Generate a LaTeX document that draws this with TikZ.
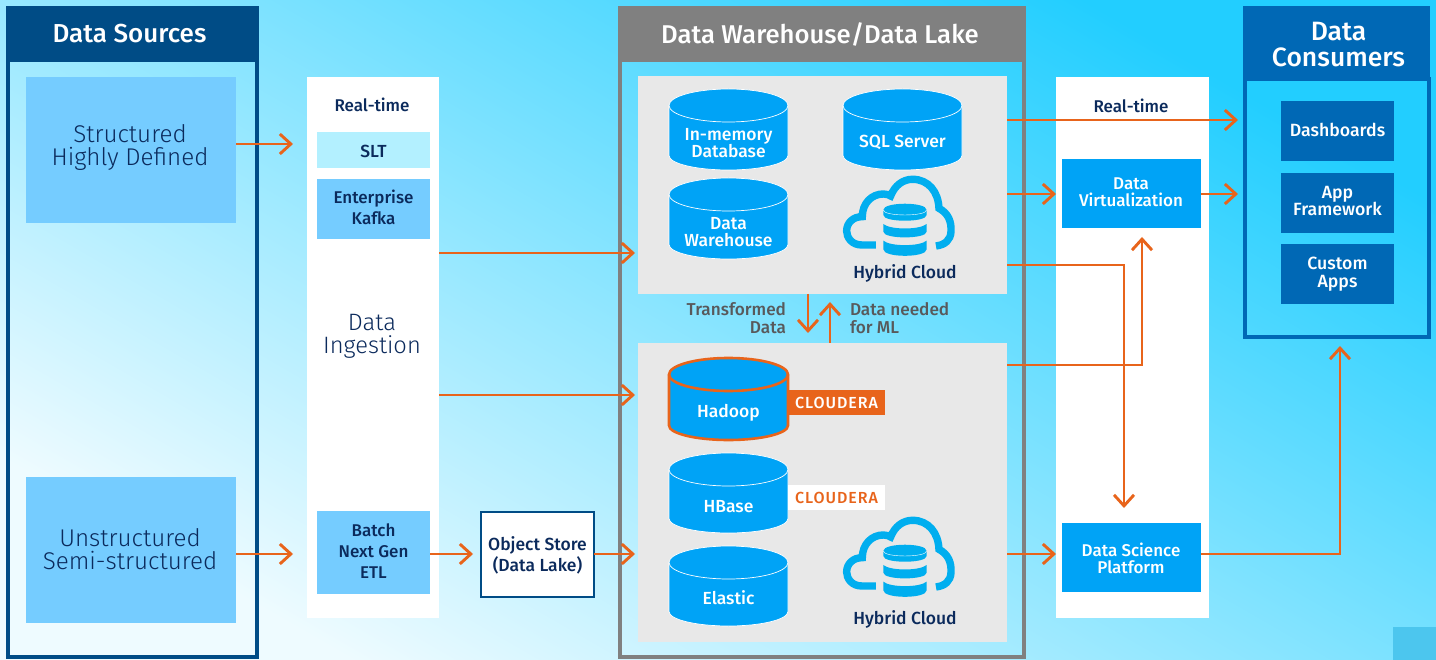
\documentclass[tikz,border=0pt]{standalone}
\usepackage{fontspec}
\usetikzlibrary{arrows.meta,calc}
\setmainfont{Open Sans}
\newfontfamily\fmed{Fira Sans Medium}
\newfontfamily\flight{Fira Sans Light}
\definecolor{ora}{HTML}{E8641B}
\definecolor{navy}{HTML}{004C86}
\definecolor{blu}{HTML}{0068B5}
\definecolor{cyanb}{HTML}{00A3F6}
\definecolor{skyb}{HTML}{75CCFF}
\definecolor{palb}{HTML}{B3F0FF}
\definecolor{panelg}{HTML}{E8E8E8}
\definecolor{graym}{HTML}{808080}
\definecolor{ink}{HTML}{0B2A5C}
\definecolor{txtg}{HTML}{58595B}
\definecolor{icon}{HTML}{00AEEF}
\definecolor{bgdark}{HTML}{22CEFF}
\definecolor{bglight}{HTML}{EEFBFF}
\tikzset{
  x=1pt,y=-1pt,
  box/.style={rectangle,inner sep=0pt,outer sep=0pt,align=center},
  fs/.style={font={\fmed\fontsize{#1}{#1}\selectfont}},
  conn/.style={draw=ora,line width=2.9pt,-{Straight Barb[length=11pt,width=20pt,line width=2.9pt]}},
  cyl/.style={fill=cyanb,draw=white,line width=.7pt},
}
% left x, top y, bottom y, name, text, extra style, text centre y
\newcommand\dbcyl[7]{%
  \path[cyl,#6] (#1,#2+16.5) arc[start angle=180,end angle=0,x radius=59.5pt,y radius=16.5pt]
    -- (#1+119,#3-14.5) arc[start angle=0,end angle=-180,x radius=59.5pt,y radius=14.5pt] -- cycle;
  \path[cyl,fill=none,#6] (#1,#2+16.5) arc[start angle=180,end angle=360,x radius=59.5pt,y radius=16.5pt];
  \node[box,text=white,fs=17.5] (#4) at (#1+59.5,#7) {#5};
}
\newcommand\cloudicon[2]{%
  \begin{scope}[shift={(#1,#2)},x=0.3333pt,y=-0.3333pt]
    \draw[icon,line width=7.4pt] (768,735) -- (725,735) .. controls (695,735) and (680,712) .. (680,693)
      .. controls (680,668) and (700,650) .. (727,650)
      .. controls (727,610) and (755,582) .. (790,582)
      .. controls (800,582) and (808,585) .. (812,588)
      .. controls (825,555) and (850,538) .. (878,538)
      .. controls (925,538) and (955,575) .. (957,625)
      .. controls (985,640) and (995,665) .. (993,695)
      .. controls (992,720) and (975,735) .. (948,738);
    \fill[icon] (790,630) .. controls (790,605) and (920,605) .. (920,630) -- (920,645)
       .. controls (920,668) and (790,668) .. (790,645) -- cycle;
    \draw[white,line width=.4pt] (790,630) .. controls (790,650) and (920,650) .. (920,630);
    \fill[icon] (790,672) .. controls (810,690) and (900,690) .. (920,672) -- (920,695)
       .. controls (920,718) and (790,718) .. (790,695) -- cycle;
    \fill[icon] (790,722) .. controls (810,740) and (900,740) .. (920,722) -- (920,748)
       .. controls (920,774) and (790,774) .. (790,748) -- cycle;
  \end{scope}%
}
\begin{document}
\begin{tikzpicture}
\useasboundingbox (0,0) rectangle (1436,660);
% background
\shade[bottom color=bglight,top color=bgdark,shading angle=-30]
   (0,0) rectangle (1436,660);
\fill[fill={rgb,255:red,76;green,198;blue,238}] (1393,627) rectangle (1436,660);

% Data sources
\draw[navy,line width=4pt] (8,60) rectangle (257,657);
\node[box,fill=navy,minimum width=253pt,minimum height=56pt] (srchead) at (132.5,34) {};
\node[box,text=white,fs=26] (srcheadt) at (129.5,34) {Data Sources};
\node[box,fill=skyb,minimum width=210pt,minimum height=146pt] (struct) at (131,150) {};
\node[box,text=ink,font={\flight\fontsize{24.2}{23}\selectfont}] (structt) at (130,147) {Structured\\Highly Defined};
\node[box,fill=skyb,minimum width=210pt,minimum height=146pt] (unstruct) at (131,550) {};
\node[box,text=ink,font={\flight\fontsize{24.2}{23}\selectfont}] (unstructt) at (130,549) {Unstructured\\Semi-structured};

% Ingestion
\node[box,fill=white,minimum width=132pt,minimum height=541pt] (ingest) at (373,347.5) {};
\node[box,text=ink,fs=17] (rt1) at (372,105) {Real-time};
\node[box,fill=palb,minimum width=113pt,minimum height=36pt] (slt) at (373.5,150) {};
\node[box,text=ink,fs=17.5] (sltt) at (373.5,151) {SLT};
\node[box,fill=skyb,minimum width=113pt,minimum height=60pt] (kafka) at (373.5,209) {};
\node[box,text=ink,font={\fmed\fontsize{17}{21}\selectfont}] (kafkat) at (373.5,207.5) {Enterprise\\Kafka};
\node[box,text=ink,font={\flight\fontsize{23.7}{23}\selectfont}] (dataing) at (372,336.5) {Data\\Ingestion};
\node[box,fill=skyb,minimum width=113pt,minimum height=83pt] (batch) at (373.5,552.5) {};
\node[box,text=ink,font={\fmed\fontsize{17}{21}\selectfont}] (batcht) at (373.5,551.5) {Batch\\Next Gen\\ETL};
\node[box,fill=white,draw=navy,line width=1.5pt,minimum width=113pt,minimum height=85pt] (objstore) at (537.5,554.5) {};
\node[box,text=ink,font={\fmed\fontsize{17.5}{21}\selectfont}] (objstoret) at (537.5,555.5) {Object Store\\(Data Lake)};

% Warehouse
\draw[graym,line width=4pt] (620,60) rectangle (1024,657);
\node[box,fill=graym,minimum width=408pt,minimum height=56pt] (dwhead) at (822,34) {};
\node[box,text=white,fs=25.7] (dwheadt) at (820,34) {Data Warehouse/Data Lake};
\node[box,fill=panelg,minimum width=369pt,minimum height=218pt] (panelA) at (822.5,185) {};
\node[box,fill=panelg,minimum width=369pt,minimum height=299pt] (panelB) at (822.5,492.5) {};

\dbcyl{669}{89}{170}{inmem}{In-memory\\Database}{}{143}
\dbcyl{843}{89}{170}{sqlsrv}{SQL Server}{}{142}
\dbcyl{669}{178}{259}{dwcyl}{Data\\Warehouse}{}{232}
\cloudicon{620}{0}
\node[box,text=ink,fs=17.5] (hc1) at (905,273) {Hybrid Cloud};

\dbcyl{669}{358}{440}{hadoop}{Hadoop}{draw=ora,line width=2.6pt}{413}
\dbcyl{669}{453}{533}{hbase}{HBase}{}{507}
\dbcyl{669}{546}{626}{elastic}{Elastic}{}{598}
\node[box,fill=ora,text=white,minimum width=97pt,minimum height=25pt,fs=16] (cl1) at (836.5,402.5) {\addfontfeature{LetterSpace=6}CLOUDERA};
\node[box,fill=white,text=ora,minimum width=97pt,minimum height=25pt,fs=16] (cl2) at (836.5,497.5) {\addfontfeature{LetterSpace=6}CLOUDERA};
\cloudicon{620}{341}
\node[box,text=ink,fs=17.5] (hc2) at (905,619) {Hybrid Cloud};

\node[box,text=txtg,align=right,anchor=east,font={\fmed\fontsize{17.2}{18}\selectfont}] (transf) at (786,318) {Transformed\\Data};
\node[box,text=txtg,align=left,anchor=west,font={\fmed\fontsize{17.2}{18}\selectfont}] (needed) at (850,318) {Data needed\\for ML};

% Right ingestion
\node[box,fill=white,minimum width=153pt,minimum height=541pt] (serve) at (1132.5,347.5) {};
\node[box,text=ink,fs=17] (rt2) at (1131,106) {Real-time};
\node[box,fill=cyanb,minimum width=139pt,minimum height=69pt] (dv) at (1131.5,193.5) {};
\node[box,text=white,fs=17] (dvt) at (1131,192.5) {Data\\Virtualization};
\node[box,fill=cyanb,minimum width=139pt,minimum height=69pt] (dsp) at (1131.5,557.5) {};
\node[box,text=white,fs=17] (dspt) at (1131,558) {Data Science\\Platform};

% Consumers
\draw[blu,line width=4pt] (1245,79) rectangle (1429,337);
\node[box,fill=blu,minimum width=187pt,minimum height=75pt] (conshead) at (1336.5,43.5) {};
\node[box,text=white,font={\fmed\fontsize{26.5}{26}\selectfont}] (consheadt) at (1338.5,44.5) {Data\\Consumers};
\node[box,fill=blu,minimum width=113pt,minimum height=60pt] (dash) at (1337.5,131) {};
\node[box,text=white,fs=17.7] (dasht) at (1337.5,130) {Dashboards};
\node[box,fill=blu,minimum width=113pt,minimum height=60pt] (appf) at (1337.5,203) {};
\node[box,text=white,fs=17.7] (appft) at (1337.5,201) {App\\Framework};
\node[box,fill=blu,minimum width=113pt,minimum height=60pt] (capps) at (1337.5,274) {};
\node[box,text=white,fs=17.7] (cappst) at (1337.5,274) {Custom\\Apps};
\coordinate (consL1) at (1238,120);
\coordinate (consL2) at (1238,194);
\coordinate (consB) at (1340,346);
\coordinate (ingL) at (293,144);
\coordinate (ingL2) at (293,554);
\coordinate (objL) at (473,554);

% connectors
\draw[conn] (struct.east |- ingL) -- (ingL);
\draw[conn] (unstruct.east |- ingL2) -- (ingL2);
\draw[conn] (batch.east |- objL) -- (objL);
\draw[conn] (objstore.east |- objL) -- ($(panelB.west |- objL)+(-3,0)$);
\draw[conn] (ingest.east |- 0,253) -- ($(panelA.west |- 0,253)+(-3,0)$);
\draw[conn] (ingest.east |- 0,395) -- ($(panelB.west |- 0,395)+(-3,0)$);
\draw[conn] (panelA.east |- consL1) -- (consL1);
\draw[conn] (panelA.east |- consL2) -- ($(dv.west |- consL2)+(-6,0)$);
\draw[conn] (dv.east |- consL2) -- (consL2);
\draw[conn] (panelA.east |- 0,265) -| ($(dsp.north -| 1124,0)+(0,-15)$);
\draw[conn] (panelB.east |- 0,365) -| ($(dv.south -| 1142,0)+(0,9)$);
\draw[conn] (panelB.east |- objL) -- ($(dsp.west |- objL)+(-6,0)$);
\draw[conn] (dsp.east |- objL) -| (consB);
\draw[conn] (panelA.south -| 808,0) -- ($(panelB.north -| 808,0)+(0,-10)$);
\draw[conn] (panelB.north -| 830,0) -- ($(panelA.south -| 830,0)+(0,8)$);
\end{tikzpicture}
\end{document}
